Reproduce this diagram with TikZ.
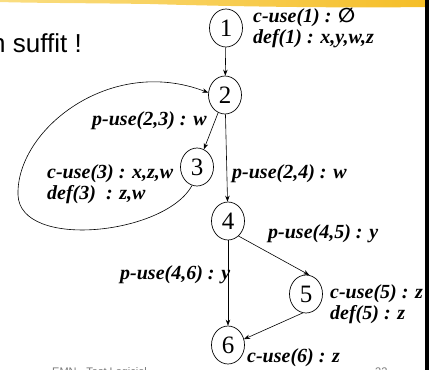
\documentclass[tikz,border=0pt]{standalone}
\usepackage{fontspec}
\setmainfont{Liberation Serif}
\newfontfamily\arialf{Liberation Sans}
\newfontfamily\symf{DejaVu Sans}
\usetikzlibrary{shapes.geometric,arrows.meta}
\definecolor{bandL}{RGB}{250,222,130}
\definecolor{bandR}{RGB}{245,190,40}
\definecolor{footgray}{RGB}{120,120,120}
\begin{document}
\begin{tikzpicture}[x=1pt,y=-1pt,
  st/.style={draw,ellipse,minimum width=33pt,minimum height=38pt,inner sep=0pt,
             font=\fontsize{25}{26}\selectfont,line width=0.7pt},
  lab/.style={anchor=base west,inner sep=0pt,font=\fontsize{20}{22}\selectfont\bfseries\itshape},
  arr/.style={-{Stealth[length=6pt,width=4.5pt]},line width=0.6pt}]
\useasboundingbox (0,0) rectangle (440,370);
\clip (0,0) rectangle (440,370);
% top yellow band
\shade[left color=bandL,right color=bandR]
  (0,0) -- (425,0) -- (425,7) .. controls (350,8) and (250,7) .. (150,4)
  .. controls (80,3) and (30,3) .. (0,2) -- cycle;
% right black rule
\fill[black] (425,0) rectangle (429,370);
% slide text
\node[anchor=base east,inner sep=0pt,font=\arialf\fontsize{26}{28}\selectfont] (txt) at (82,52) {n suffit !};
\node[anchor=base west,inner sep=0pt,text=footgray,font=\arialf\fontsize{11}{12}\selectfont] (foot) at (52,375) {EMN - Test Logiciel};
\node[anchor=base west,inner sep=0pt,text=footgray,font=\arialf\fontsize{11}{12}\selectfont] (page) at (375,375) {32};
% graph nodes
\node[st] (n1) at (226,28) {1};
\node[st] (n2) at (225,95) {2};
\node[st] (n3) at (197,167) {3};
\node[st] (n4) at (228,221) {4};
\node[st] (n5) at (306,294) {5};
\node[st] (n6) at (228,345) {6};
% edges
\draw[arr] (n1) -- (n2);
\draw[arr] (n2) -- (n3);
\draw[arr] (n2) -- (n4);
\draw[arr] (n3.-105) .. controls (165,235) and (20,250) .. (18,195)
  .. controls (16,130) and (110,55) .. (n2.172);
\draw[arr] (n4.-55) -- (n5.80);
\draw[arr] (n4) -- (n6);
\draw[arr] (n5.-100) -- (n6.20);
% labels
\node[lab] (l1a) at (253,22) {c-use(1) : {\symf ∅}};
\node[lab] (l1b) at (253,43) {def(1) : x,y,w,z};
\node[lab] (l23) at (92,125) {p-use(2,3) : w};
\node[lab] (l3a) at (47,178) {c-use(3) : x,z,w};
\node[lab] (l3b) at (47,199) {def(3)~~: z,w};
\node[lab] (l24) at (232,178) {p-use(2,4) : w};
\node[lab] (l45) at (268,238) {p-use(4,5) : y};
\node[lab] (l46) at (120,279) {p-use(4,6) : y};
\node[lab] (l5a) at (330,298) {c-use(5) : z};
\node[lab] (l5b) at (330,319) {def(5) : z};
\node[lab] (l6) at (247,362) {c-use(6) : z};
\end{tikzpicture}
\end{document}
